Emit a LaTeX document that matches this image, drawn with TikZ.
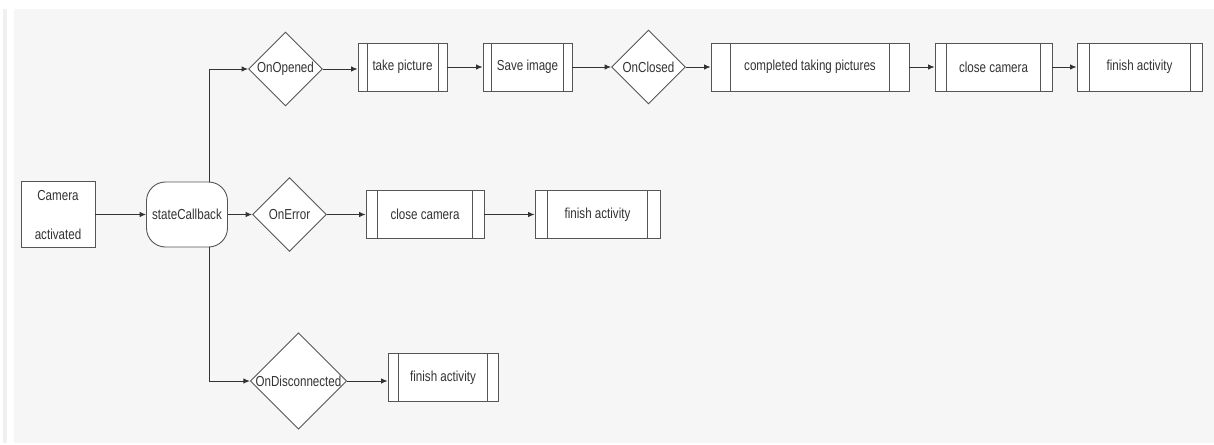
\documentclass[tikz,border=0pt]{standalone}
\usepackage{fontspec}
\setmainfont{Liberation Sans}[FakeStretch=0.8]
\usetikzlibrary{shapes.geometric,arrows.meta}
\definecolor{panel}{HTML}{F6F6F6}
\definecolor{strip}{HTML}{F0F0F0}
\definecolor{edge}{HTML}{555555}
\definecolor{ink}{HTML}{333333}
\tikzset{
  base/.style={draw=edge, fill=white, line width=0.9pt, text=ink, font=\fontsize{14.5}{14}\selectfont, inner sep=0pt},
  plain/.style={base, rectangle, minimum width=#1, minimum height=66pt},
  proc/.style={base, rectangle, minimum width=#1, minimum height=48pt},
  term/.style={base, rectangle, rounded corners=19pt, minimum width=81pt, minimum height=65pt},
  dec/.style={base, diamond, aspect=1, minimum width=#1, minimum height=#1},
  flow/.style={draw=ink, line width=0.9pt, -{Latex[length=6.5pt,width=5.5pt]}},
}
\newcommand{\bars}[3]{% node, left offset, right offset
  \draw[edge, line width=0.9pt] ([xshift=#2]#1.north west) -- ([xshift=#2]#1.south west);
  \draw[edge, line width=0.9pt] ([xshift=-#3]#1.north east) -- ([xshift=-#3]#1.south east);}
\begin{document}
\begin{tikzpicture}[x=1pt, y=-1pt]
\useasboundingbox (0,0) rectangle (1214,444);
\fill[panel] (14,9) rectangle (1214,443);
\fill[strip] (3,9) rectangle (7,443);

% row 0
\node[plain=74pt, align=center, text depth=0pt] (cam) at (58,214.5) {Camera\\[25pt]activated};
\node[term] (sc) at (187,214.5) {stateCallback};

% row 1
\node[dec=74pt] (open) at (285.5,69) {OnOpened};
\node[proc=89pt] (take) at (402.5,67) {take picture};
\node[proc=89pt] (save) at (527.5,67) {Save image};
\node[dec=74pt] (closed) at (648.5,67) {OnClosed};
\node[proc=198pt] (comp) at (810,67) {completed taking pictures};
\node[proc=117pt] (close1) at (993.5,67) {close camera};
\node[proc=125pt] (fin1) at (1139.5,67) {finish activity};

% row 2
\node[dec=74pt] (err) at (289.5,214.5) {OnError};
\node[proc=118pt] (close2) at (425,214.5) {close camera};
\node[proc=125pt] (fin2) at (597.5,214.5) {finish activity};

% row 3
\node[dec=94pt] (disc) at (298.5,381) {OnDisconnected};
\node[proc=110pt] (fin3) at (443,377.5) {finish activity};

% side bars
\bars{take}{10pt}{9pt}
\bars{save}{9pt}{9pt}
\bars{comp}{20pt}{20pt}
\bars{close1}{12pt}{12pt}
\bars{fin1}{13pt}{12pt}
\bars{close2}{12pt}{12pt}
\bars{fin2}{13pt}{13pt}
\bars{fin3}{11pt}{11pt}

% connectors
\coordinate (j) at (209,0);
\draw[flow] (cam.east) -- (sc.west);
\draw[flow] (sc.north -| j) |- (open.west);
\draw[flow] (sc.east) -- (err.west);
\draw[flow] (sc.south -| j) |- (disc.west);
\draw[flow] (open.east) -- (take.west |- open.east);
\draw[flow] (take.east) -- (save.west);
\draw[flow] (save.east) -- (closed.west);
\draw[flow] (closed.east) -- (comp.west);
\draw[flow] (comp.east) -- (close1.west);
\draw[flow] (close1.east) -- (fin1.west);
\draw[flow] (err.east) -- (close2.west);
\draw[flow] (close2.east) -- (fin2.west);
\draw[flow] (disc.east) -- (fin3.west |- disc.east);
\end{tikzpicture}
\end{document}
